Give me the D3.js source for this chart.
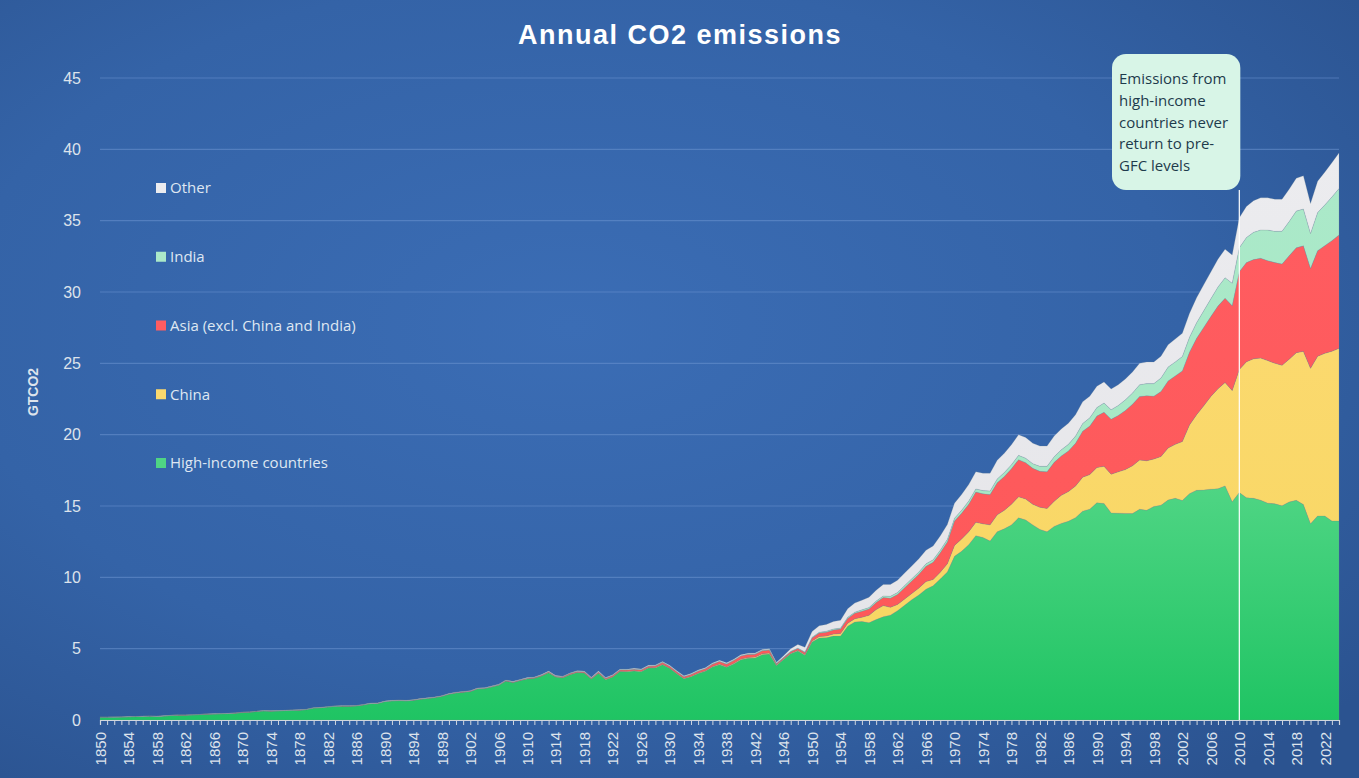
<!DOCTYPE html>
<html>
<head>
<meta charset="utf-8">
<script src="https://cdn.jsdelivr.net/npm/d3@7"></script>
<style>
  body { margin: 0; background: #2c5592; }
  svg { display: block; }
</style>
</head>
<body>
<script>
// data (GtCO2), one value per year 1850-2024
var startYear = 1850, endYear = 2024;

var highIncome = [
  0.19,0.19,0.20,0.21,0.23,0.24,0.25,0.26,0.25,0.28,
  0.32,0.34,0.34,0.36,0.38,0.41,0.42,0.44,0.45,0.48,
  0.53,0.55,0.60,0.64,0.62,0.64,0.66,0.68,0.69,0.73,
  0.84,0.86,0.91,0.96,0.97,0.97,0.99,1.06,1.15,1.16,
  1.29,1.34,1.36,1.34,1.38,1.46,1.51,1.57,1.66,1.81,
  1.90,1.95,2.00,2.18,2.20,2.32,2.44,2.73,2.63,2.76,
  2.88,2.92,3.08,3.32,3.01,2.96,3.18,3.33,3.30,2.87,
  3.27,2.83,3.02,3.40,3.39,3.44,3.39,3.64,3.65,3.88,
  3.62,3.24,2.89,3.04,3.26,3.41,3.71,3.88,3.69,3.93,
  4.22,4.32,4.34,4.58,4.63,3.82,4.24,4.64,4.84,4.54,
  5.46,5.75,5.76,5.88,5.89,6.58,6.87,6.91,6.82,7.04,
  7.24,7.35,7.66,8.04,8.43,8.76,9.17,9.41,9.88,10.38,
  11.47,11.82,12.29,12.92,12.79,12.54,13.20,13.40,13.67,14.17,
  14.02,13.67,13.36,13.19,13.57,13.78,13.93,14.18,14.64,14.78,
  15.22,15.18,14.51,14.50,14.48,14.47,14.77,14.70,14.97,15.05,
  15.42,15.54,15.39,15.86,16.10,16.12,16.18,16.21,16.41,15.29,
  15.94,15.58,15.54,15.41,15.20,15.15,15.02,15.28,15.40,15.10,
  13.75,14.30,14.30,13.95,13.95
];

var china = [
  0,0,0,0,0,0,0,0,0,0,
  0,0,0,0,0,0,0,0,0,0,
  0,0,0,0,0,0,0,0,0,0,
  0,0,0,0,0,0,0,0,0,0,
  0.001,0.001,0.001,0.001,0.001,0.001,0.001,0.002,0.002,0.002,
  0.002,0.002,0.003,0.003,0.004,0.004,0.005,0.006,0.007,0.008,
  0.010,0.010,0.011,0.012,0.013,0.014,0.015,0.016,0.017,0.018,
  0.020,0.019,0.020,0.021,0.022,0.023,0.023,0.024,0.026,0.028,
  0.030,0.031,0.032,0.034,0.037,0.040,0.044,0.048,0.050,0.054,
  0.060,0.064,0.068,0.070,0.066,0.045,0.040,0.042,0.044,0.050,
  0.08,0.10,0.13,0.14,0.17,0.20,0.23,0.29,0.52,0.70,
  0.78,0.55,0.44,0.44,0.44,0.49,0.54,0.44,0.48,0.58,
  0.77,0.87,0.91,0.94,0.96,1.14,1.18,1.30,1.46,1.48,
  1.47,1.45,1.55,1.64,1.77,1.97,2.08,2.22,2.38,2.42,
  2.48,2.60,2.72,2.90,3.07,3.36,3.46,3.47,3.33,3.42,
  3.65,3.78,4.13,4.82,5.30,5.90,6.50,7.00,7.25,7.80,
  8.63,9.53,9.78,9.96,9.99,9.86,9.84,10.01,10.35,10.74,
  10.90,11.20,11.40,11.90,12.10
];

var asiaOther = [
  0.001,0.001,0.001,0.001,0.002,0.002,0.002,0.002,0.002,0.003,
  0.003,0.003,0.003,0.004,0.004,0.004,0.004,0.005,0.005,0.005,
  0.006,0.006,0.006,0.007,0.007,0.007,0.008,0.008,0.008,0.009,
  0.009,0.010,0.010,0.011,0.011,0.011,0.012,0.012,0.013,0.013,
  0.014,0.014,0.015,0.015,0.015,0.016,0.016,0.017,0.017,0.018,
  0.020,0.021,0.022,0.024,0.025,0.027,0.029,0.031,0.033,0.035,
  0.040,0.043,0.046,0.055,0.050,0.052,0.056,0.060,0.062,0.060,
  0.080,0.075,0.078,0.082,0.088,0.095,0.098,0.105,0.112,0.125,
  0.118,0.110,0.108,0.115,0.128,0.140,0.154,0.168,0.175,0.190,
  0.200,0.205,0.200,0.205,0.205,0.070,0.080,0.100,0.120,0.140,
  0.20,0.24,0.26,0.29,0.31,0.34,0.38,0.43,0.44,0.49,
  0.56,0.64,0.70,0.79,0.88,0.97,1.07,1.21,1.36,1.52,
  1.70,1.80,1.93,2.12,2.10,2.12,2.25,2.37,2.48,2.60,
  2.55,2.52,2.52,2.57,2.72,2.76,2.85,3.00,3.22,3.40,
  3.60,3.80,3.85,3.95,4.15,4.30,4.45,4.55,4.40,4.55,
  4.70,4.80,4.95,5.10,5.35,5.50,5.60,5.80,5.90,5.95,
  6.85,6.95,6.95,7.00,7.00,7.05,7.10,7.25,7.35,7.40,
  7.00,7.40,7.55,7.75,7.95
];

var india = [
  0.002,0.002,0.002,0.002,0.002,0.002,0.002,0.002,0.002,0.003,
  0.003,0.003,0.003,0.003,0.003,0.003,0.004,0.004,0.004,0.004,
  0.004,0.004,0.005,0.005,0.005,0.005,0.005,0.005,0.006,0.006,
  0.006,0.006,0.006,0.007,0.007,0.007,0.007,0.007,0.007,0.008,
  0.008,0.008,0.008,0.008,0.009,0.009,0.009,0.009,0.009,0.009,
  0.010,0.011,0.011,0.012,0.012,0.013,0.013,0.014,0.014,0.015,
  0.015,0.016,0.016,0.017,0.018,0.018,0.019,0.019,0.020,0.020,
  0.020,0.020,0.021,0.021,0.022,0.022,0.023,0.023,0.024,0.025,
  0.025,0.025,0.025,0.026,0.027,0.027,0.028,0.029,0.030,0.030,
  0.031,0.032,0.033,0.034,0.035,0.035,0.036,0.038,0.040,0.044,
  0.06,0.06,0.07,0.07,0.07,0.08,0.08,0.09,0.10,0.11,
  0.12,0.13,0.14,0.15,0.15,0.16,0.17,0.17,0.18,0.19,
  0.20,0.21,0.22,0.22,0.23,0.25,0.27,0.28,0.29,0.30,
  0.31,0.33,0.35,0.38,0.40,0.43,0.46,0.50,0.54,0.58,
  0.60,0.64,0.67,0.70,0.74,0.79,0.82,0.86,0.88,0.95,
  0.97,0.98,1.01,1.04,1.10,1.16,1.24,1.34,1.44,1.58,
  1.68,1.76,1.91,1.98,2.15,2.19,2.30,2.40,2.57,2.58,
  2.45,2.67,2.85,3.06,3.25
];

var other = [
  0.003,0.003,0.003,0.003,0.003,0.004,0.004,0.004,0.004,0.004,
  0.005,0.005,0.005,0.005,0.006,0.006,0.006,0.006,0.007,0.007,
  0.007,0.008,0.008,0.008,0.008,0.009,0.009,0.009,0.010,0.010,
  0.010,0.011,0.011,0.012,0.012,0.012,0.013,0.013,0.014,0.014,
  0.014,0.015,0.015,0.016,0.016,0.017,0.017,0.018,0.018,0.019,
  0.020,0.021,0.021,0.022,0.022,0.023,0.024,0.025,0.026,0.026,
  0.027,0.028,0.029,0.030,0.030,0.031,0.032,0.033,0.034,0.035,
  0.036,0.036,0.037,0.038,0.040,0.042,0.044,0.046,0.048,0.050,
  0.050,0.048,0.046,0.048,0.050,0.052,0.054,0.057,0.060,0.062,
  0.060,0.060,0.060,0.060,0.065,0.070,0.110,0.180,0.250,0.320,
  0.40,0.45,0.48,0.52,0.56,0.60,0.64,0.68,0.72,0.76,
  0.80,0.83,0.86,0.88,0.90,0.92,0.95,0.97,1.00,1.03,
  1.06,1.10,1.15,1.20,1.22,1.25,1.30,1.35,1.40,1.45,
  1.45,1.43,1.42,1.42,1.44,1.46,1.48,1.50,1.52,1.52,
  1.50,1.48,1.45,1.45,1.46,1.48,1.50,1.52,1.52,1.53,
  1.56,1.60,1.62,1.68,1.75,1.82,1.88,1.95,2.00,1.98,
  2.10,2.18,2.22,2.25,2.26,2.25,2.24,2.26,2.30,2.32,
  2.10,2.20,2.30,2.40,2.50
];

var seriesKeys = ["high", "china", "asia", "india", "other"];
var seriesNames = {
  high: "High-income countries",
  china: "China",
  asia: "Asia (excl. China and India)",
  india: "India",
  other: "Other"
};
var yTicks = [0, 5, 10, 15, 20, 25, 30, 35, 40, 45];
var noteYear = 2010;
var noteLines = ["Emissions from", "high-income", "countries never", "return to pre-", "GFC levels"];

var years = d3.range(startYear, endYear + 1);
var table = years.map(function(y, i) {
  return { year: y, high: highIncome[i], china: china[i], asia: asiaOther[i], india: india[i], other: other[i] };
});

// graph
var W = 1359, H = 778;

var svg = d3.select("body").append("svg")
    .attr("width", W)
    .attr("height", H);

var defs = svg.append("defs");

var bg = defs.append("radialGradient").attr("id", "bg")
    .attr("cx", "42%").attr("cy", "42%").attr("r", "75%");
bg.append("stop").attr("offset", "0%").attr("stop-color", "#3b6db5");
bg.append("stop").attr("offset", "60%").attr("stop-color", "#3463a7");
bg.append("stop").attr("offset", "100%").attr("stop-color", "#2b5390");

var fills = {
  high: ["#4fd584", "#1fc463"],
  china: ["#fbd96e", "#f7d660"],
  asia: ["#ff5c60", "#fd5858"],
  india: ["#abe9c9", "#a3e6c2"],
  other: ["#ececef", "#e4e4e8"]
};
seriesKeys.forEach(function(k) {
  var g = defs.append("linearGradient").attr("id", "g-" + k)
      .attr("x1", 0).attr("y1", 0).attr("x2", 0).attr("y2", 1);
  g.append("stop").attr("offset", "0%").attr("stop-color", fills[k][0]);
  g.append("stop").attr("offset", "100%").attr("stop-color", fills[k][1]);
});

svg.append("rect").attr("width", W).attr("height", H).attr("fill", "url(#bg)");

var x = d3.scaleLinear()
    .domain([startYear, endYear])
    .range([100, 1339]);

var y = d3.scaleLinear()
    .domain([0, 45])
    .range([720, 78]);

// gridlines
svg.append("g")
  .selectAll("line")
  .data(yTicks.filter(function(d) { return d > 0; }))
  .enter().append("line")
    .attr("x1", 100).attr("x2", 1339)
    .attr("y1", function(d) { return y(d); })
    .attr("y2", function(d) { return y(d); })
    .attr("stroke", "#6b93cf")
    .attr("stroke-opacity", 0.55)
    .attr("stroke-width", 1.2);

// y axis labels
svg.append("g")
  .selectAll("text")
  .data(yTicks)
  .enter().append("text")
    .attr("x", 81)
    .attr("y", function(d) { return y(d); })
    .attr("dy", "0.36em")
    .attr("text-anchor", "end")
    .attr("fill", "#dde3ec")
    .style("font", "16px 'Liberation Sans', Arial, sans-serif")
    .text(function(d) { return d; });

svg.append("text")
    .attr("transform", "translate(38,392) rotate(-90)")
    .attr("text-anchor", "middle")
    .attr("fill", "#dde3ec")
    .style("font", "bold 14px 'Liberation Sans', Arial, sans-serif")
    .text("GTCO2");

// stacking
var stack = d3.stack()
    .keys(seriesKeys)
    .order(d3.stackOrderNone)
    .offset(d3.stackOffsetNone);

var layers = stack(table);

var area = d3.area()
    .x(function(d) { return x(d.data.year); })
    .y0(function(d) { return y(d[0]); })
    .y1(function(d) { return y(d[1]); });

svg.append("g")
  .selectAll("path")
  .data(layers)
  .enter().append("path")
    .attr("d", area)
    .attr("fill", function(d) { return "url(#g-" + d.key + ")"; })
    .attr("stroke", "#7a8a90")
    .attr("stroke-opacity", 0.35)
    .attr("stroke-width", 0.6);

// x axis
var xAxis = d3.axisBottom(x)
    .tickValues(years)
    .tickSize(5)
    .tickFormat(function(d) { return (d - startYear) % 4 === 0 ? d : ""; });

var gx = svg.append("g")
    .attr("transform", "translate(0,720)")
    .call(xAxis);

gx.select(".domain").attr("stroke", "#d0d6de").attr("stroke-width", 1.2);
gx.selectAll(".tick line").attr("stroke", "#d0d6de").attr("stroke-width", 1);
gx.selectAll(".tick text")
    .attr("fill", "#dde3ec")
    .style("font", "15px 'Liberation Sans', Arial, sans-serif")
    .attr("transform", "rotate(-90)")
    .attr("text-anchor", "end")
    .attr("x", -12)
    .attr("y", 0)
    .attr("dy", "0.35em");

// legend
var legendKeys = ["other", "india", "asia", "china", "high"];
var legendY = d3.scalePoint().domain(legendKeys).range([188, 463]);
var legend = svg.append("g")
  .selectAll("g")
  .data(legendKeys)
  .enter().append("g")
    .attr("transform", function(d) { return "translate(156," + legendY(d) + ")"; });

legend.append("rect")
    .attr("x", 0).attr("y", -5)
    .attr("width", 10).attr("height", 10)
    .attr("fill", function(d) { return fills[d][0]; });

legend.append("text")
    .attr("x", 14)
    .attr("dy", "0.36em")
    .attr("fill", "#dfe7f2")
    .style("font", "15px 'Open Sans', sans-serif")
    .text(function(d) { return seriesNames[d]; });

// annotation
var nx = x(noteYear);
svg.append("line")
    .attr("x1", nx).attr("x2", nx)
    .attr("y1", 190).attr("y2", 720)
    .attr("stroke", "#ffffff")
    .attr("stroke-width", 1.2);

svg.append("rect")
    .attr("x", 1112).attr("y", 54)
    .attr("width", nx - 1112 + 1).attr("height", 136)
    .attr("rx", 14)
    .attr("fill", "#d8f5e7");

svg.append("g")
  .selectAll("text")
  .data(noteLines)
  .enter().append("text")
    .attr("x", 1119)
    .attr("y", function(d, i) { return 79 + i * 21.6; })
    .attr("dy", "0.36em")
    .attr("fill", "#1e3b4c")
    .style("font", "15px 'Open Sans', sans-serif")
    .text(function(d) { return d; });

// title
svg.append("text")
    .attr("x", 680)
    .attr("y", 44)
    .attr("text-anchor", "middle")
    .attr("fill", "#ffffff")
    .style("font", "bold 27px 'Liberation Sans', Arial, sans-serif")
    .style("letter-spacing", "1.5px")
    .text("Annual CO2 emissions");
</script>
</body>
</html>
